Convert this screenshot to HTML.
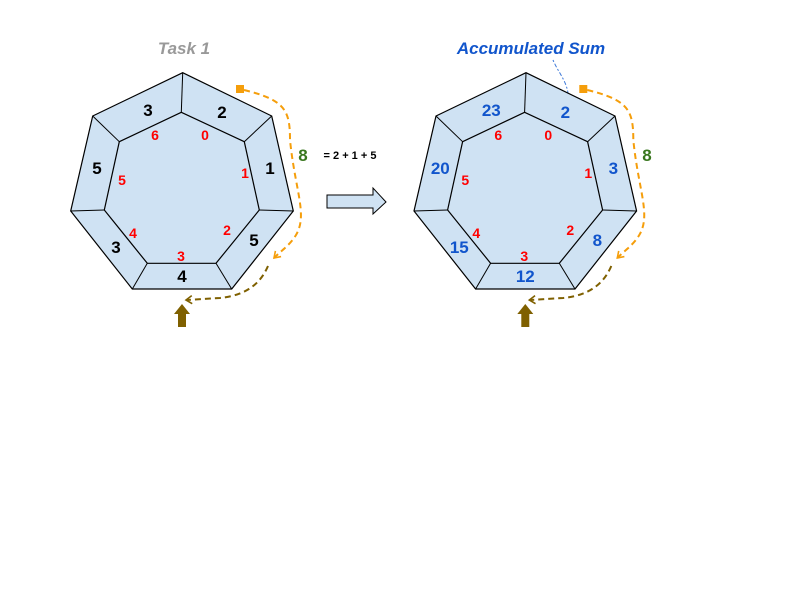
<!DOCTYPE html>
<html><head><meta charset="utf-8"><style>
html,body{margin:0;padding:0;background:#fff;}
svg{display:block;font-family:"Liberation Sans",Arial,sans-serif;font-weight:bold;}
</style></head><body>
<svg id="s" width="800" height="600" viewBox="0 0 800 600" xmlns="http://www.w3.org/2000/svg">
<defs>
<marker id="ao" markerUnits="userSpaceOnUse" markerWidth="10" markerHeight="10" refX="7" refY="5" orient="auto"><path d="M1,1 L7,5 L1,9" fill="none" stroke="#f59e0b" stroke-width="1.6"/></marker>
<marker id="ab" markerUnits="userSpaceOnUse" markerWidth="10" markerHeight="10" refX="7" refY="5" orient="auto"><path d="M1,1 L7,5 L1,9" fill="none" stroke="#7f6000" stroke-width="1.6"/></marker>
</defs>
<text x="184" y="54" text-anchor="middle" font-size="17" font-style="italic" fill="#999">Task 1</text>
<text x="531" y="54" text-anchor="middle" font-size="17" font-style="italic" fill="#1155cc">Accumulated Sum</text>
<path d="M553,60 C558,72 566,80 568,93" fill="none" stroke="#3c78d8" stroke-width="1" stroke-dasharray="2,2,4,2"/>
<g id="L"></g>
<g id="R"></g>
<text x="303" y="161" text-anchor="middle" font-size="17" fill="#38761d">8</text>
<text x="350" y="159" text-anchor="middle" font-size="11" fill="#000">= 2 + 1 + 5</text>
<text x="647" y="161" text-anchor="middle" font-size="17" fill="#38761d">8</text>
<path d="M327,195 H373 V188 L386,202 L373,214 V208 H327 Z" fill="#cfe2f3" stroke="#000" stroke-width="1"/>
</svg>
<script>
const outerLabelsLeft=["3","2","1","5","4","3","5"];
const outerLabelsRight=["23","2","3","8","12","15","20"];
const indexLabels=["6","0","1","2","3","4","5"];
const outerV=[[182.7,72.7],[271.7,116],[293.3,211],[231.7,289],[132.3,289],[70.7,211],[92.7,116]];
const innerV=[[181.3,112.3],[244.3,141.7],[259.3,210],[216,263.3],[147.3,263.3],[104.3,210],[119.3,141.7]];
const outerPos=[[148,116],[222,118],[270,174],[254,246],[182,282],[116,253],[97,174]];
const innerPos=[[155,140],[205,140],[245,178],[227,235],[181,261],[133,238],[122,185]];
const NS="http://www.w3.org/2000/svg";
function mk(g,t,a){const e=document.createElementNS(NS,t);for(const k in a)e.setAttribute(k,a[k]);g.appendChild(e);return e;}
function draw(id,dx,labels,color){
  const g=document.getElementById(id);
  const p=v=>v.map(q=>(q[0]+dx)+","+q[1]).join(" ");
  const o=mk(g,"polygon",{points:p(outerV),fill:"#cfe2f3",stroke:"#000","stroke-width":1.2});
  
  
  const i=mk(g,"polygon",{points:p(innerV),fill:"#cfe2f3",stroke:"#000","stroke-width":1.2});
  
  
  for(let k=0;k<7;k++){
    const l=mk(g,"line",{x1:outerV[k][0]+dx,y1:outerV[k][1],x2:innerV[k][0]+dx,y2:innerV[k][1],stroke:"#000","stroke-width":1});
    
    
    const t=mk(g,"text",{x:outerPos[k][0]+dx,y:outerPos[k][1],"text-anchor":"middle","font-size":17,fill:color});
    t.textContent=labels[k];
    
    
    const r=mk(g,"text",{x:innerPos[k][0]+dx,y:innerPos[k][1],"text-anchor":"middle","font-size":14,fill:"#ff0000"});
    r.textContent=indexLabels[k];
    
    
  }
  const sq=mk(g,"rect",{x:236+dx,y:85,width:8,height:8,fill:"#f59e0b"});
  
  
  const op=mk(g,"path",{d:`M${244+dx},90 C${285+dx},100 ${290+dx},110 ${290+dx},140 C${295+dx},190 ${308+dx},215 ${296+dx},235 C${290+dx},245 ${282+dx},250 ${274+dx},258`,fill:"none",stroke:"#f59e0b","stroke-width":2,"stroke-dasharray":"6,4","marker-end":"url(#ao)"});
  
  
  const bp=mk(g,"path",{d:`M${268+dx},266 C${262+dx},280 ${250+dx},295 ${220+dx},298 L${186+dx},300`,fill:"none",stroke:"#7f6000","stroke-width":2,"stroke-dasharray":"6,4","marker-end":"url(#ab)"});
  
  
  const ua=mk(g,"path",{d:`M${178+dx},327 V314 H${174+dx} L${182+dx},304 L${190+dx},314 H${186+dx} V327 Z`,fill:"#7f6000"});
  
  
}
draw("L",0,outerLabelsLeft,"#000");
draw("R",343.3,outerLabelsRight,"#1155cc");
</script>
</body></html>
